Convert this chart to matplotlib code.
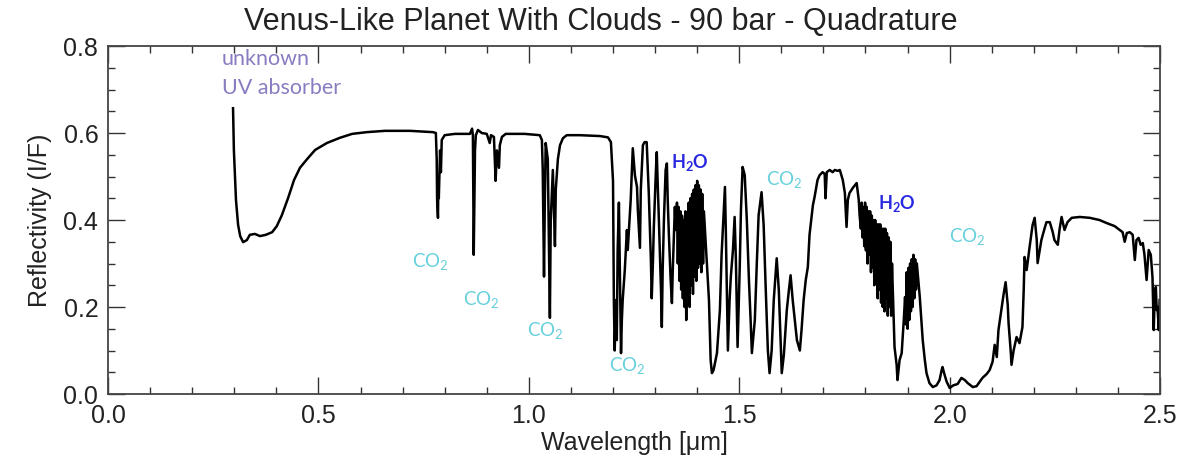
import numpy as np
import matplotlib
matplotlib.use("Agg")
import matplotlib.pyplot as plt
from matplotlib.ticker import MultipleLocator

# spectrum values, split by region (wavelength in um, I/F)
vis_wl = [0.297, 0.299, 0.304, 0.309, 0.314, 0.321, 0.330, 0.337, 0.349, 0.361, 0.375,
          0.390, 0.401, 0.413, 0.428, 0.442, 0.456, 0.473, 0.492, 0.520, 0.551, 0.580,
          0.615, 0.658, 0.717, 0.772,
          0.779, 0.781, 0.782, 0.784, 0.785, 0.786, 0.789, 0.791, 0.793, 0.800, 0.824, 0.860,
          0.865, 0.867, 0.869, 0.872, 0.874, 0.879, 0.888, 0.900, 0.907, 0.910, 0.917,
          0.921, 0.924, 0.929, 0.931, 0.936, 0.945, 0.990, 1.026,
          1.031, 1.033, 1.036, 1.038, 1.040, 1.045, 1.050, 1.052, 1.057, 1.062, 1.064,
          1.069, 1.074, 1.081, 1.090, 1.121, 1.169, 1.188, 1.195]
vis_refl = [0.657, 0.561, 0.446, 0.389, 0.363, 0.349, 0.354, 0.366, 0.368, 0.363, 0.366,
            0.372, 0.386, 0.411, 0.451, 0.492, 0.520, 0.540, 0.561, 0.577, 0.589, 0.598,
            0.602, 0.605, 0.605, 0.602,
            0.600, 0.540, 0.446, 0.405, 0.490, 0.450, 0.560, 0.510, 0.584, 0.595, 0.598, 0.598,
            0.610, 0.595, 0.320, 0.560, 0.595, 0.607, 0.600, 0.598, 0.577, 0.595, 0.591,
            0.490, 0.560, 0.520, 0.572, 0.591, 0.598, 0.598, 0.595,
            0.584, 0.515, 0.270, 0.446, 0.577, 0.540, 0.175, 0.400, 0.515, 0.340, 0.470,
            0.540, 0.572, 0.588, 0.595, 0.595, 0.593, 0.590, 0.579]

band1_wl = [1.200, 1.202, 1.204, 1.207, 1.209, 1.211, 1.214, 1.216, 1.219, 1.221, 1.223,
            1.228, 1.233, 1.235, 1.240, 1.242, 1.247, 1.252, 1.257, 1.259, 1.264, 1.266,
            1.271, 1.275, 1.280, 1.285, 1.290, 1.292, 1.295, 1.297, 1.302, 1.304, 1.306,
            1.309, 1.314, 1.316, 1.318, 1.321, 1.325, 1.328, 1.330, 1.333, 1.337, 1.340,
            1.342, 1.347, 1.349, 1.352,
            1.354, 1.356, 1.358, 1.360, 1.362, 1.364, 1.366, 1.368, 1.370, 1.372, 1.374,
            1.376, 1.378, 1.380, 1.382, 1.384, 1.386, 1.388, 1.390, 1.392, 1.394, 1.396,
            1.398, 1.400, 1.402, 1.404, 1.406, 1.408, 1.410, 1.412, 1.414, 1.416,
            1.428, 1.432, 1.435, 1.439, 1.447]
band1_refl = [0.490, 0.216, 0.100, 0.216, 0.124, 0.331, 0.440, 0.308, 0.094, 0.170, 0.216,
              0.285, 0.377, 0.331, 0.416, 0.446, 0.565, 0.503, 0.476, 0.423, 0.336, 0.469,
              0.572, 0.579, 0.579, 0.462, 0.308, 0.220, 0.308, 0.384, 0.515, 0.556, 0.490,
              0.400, 0.239, 0.154, 0.285, 0.400, 0.515, 0.530, 0.446, 0.360, 0.262, 0.209,
              0.285, 0.430, 0.377, 0.440,
              0.300, 0.430, 0.260, 0.420, 0.240, 0.410, 0.220, 0.400, 0.200, 0.420, 0.170,
              0.410, 0.230, 0.440, 0.200, 0.450, 0.250, 0.460, 0.230, 0.470, 0.270, 0.480,
              0.260, 0.490, 0.290, 0.480, 0.300, 0.470, 0.280, 0.460, 0.300, 0.420,
              0.216, 0.078, 0.048, 0.055, 0.094]

mid_wl = [1.454, 1.458, 1.466, 1.468, 1.473, 1.477, 1.480, 1.485, 1.489, 1.492, 1.496,
          1.501, 1.504, 1.508, 1.513, 1.518, 1.523, 1.527, 1.530, 1.537, 1.542, 1.546,
          1.553, 1.558, 1.563, 1.568, 1.572, 1.577, 1.582, 1.589, 1.594, 1.599, 1.601,
          1.606, 1.613, 1.618, 1.622, 1.627, 1.632, 1.637, 1.644, 1.648, 1.653, 1.658,
          1.663, 1.667, 1.675, 1.679, 1.686, 1.691, 1.698, 1.703, 1.705, 1.708, 1.715,
          1.722, 1.727, 1.734, 1.739, 1.746, 1.751, 1.755, 1.758, 1.762, 1.770, 1.779,
          1.784, 1.786]
mid_refl = [0.193, 0.320, 0.476, 0.380, 0.100, 0.216, 0.270, 0.331, 0.407, 0.308, 0.108,
            0.285, 0.423, 0.522, 0.503, 0.400, 0.262, 0.170, 0.094, 0.170, 0.308, 0.411,
            0.464, 0.388, 0.239, 0.100, 0.048, 0.100, 0.216, 0.312, 0.239, 0.100, 0.048,
            0.090, 0.193, 0.239, 0.273, 0.216, 0.170, 0.124, 0.100, 0.147, 0.216, 0.262,
            0.292, 0.366, 0.434, 0.453, 0.492, 0.503, 0.510, 0.506, 0.450, 0.510, 0.515,
            0.510, 0.515, 0.513, 0.515, 0.492, 0.462, 0.384, 0.446, 0.462, 0.474, 0.485,
            0.446, 0.411]

band2_wl = [1.789, 1.791, 1.793, 1.795, 1.797, 1.799, 1.801, 1.803, 1.805, 1.807, 1.809,
            1.811, 1.813, 1.815, 1.817, 1.819, 1.821, 1.823, 1.825, 1.827, 1.829, 1.831,
            1.833, 1.835, 1.837, 1.839, 1.841, 1.843, 1.845, 1.847, 1.849, 1.851, 1.853,
            1.855, 1.857, 1.859, 1.861, 1.863,
            1.869, 1.874, 1.876, 1.881, 1.886, 1.891, 1.894,
            1.896, 1.898, 1.900, 1.902, 1.904, 1.906, 1.908, 1.910, 1.912, 1.914, 1.916,
            1.918, 1.920, 1.922,
            1.929, 1.936, 1.941, 1.945, 1.952, 1.960, 1.969, 1.976, 1.981, 1.983, 1.988,
            1.993, 2.000]
band2_refl = [0.380, 0.440, 0.360, 0.430, 0.340, 0.440, 0.330, 0.430, 0.300, 0.420, 0.320,
              0.420, 0.280, 0.410, 0.290, 0.400, 0.250, 0.400, 0.260, 0.390, 0.220, 0.390,
              0.240, 0.390, 0.210, 0.380, 0.200, 0.380, 0.190, 0.380, 0.220, 0.370, 0.180,
              0.360, 0.200, 0.350, 0.180, 0.300,
              0.108, 0.067, 0.032, 0.078, 0.094, 0.170, 0.223,
              0.160, 0.280, 0.150, 0.290, 0.170, 0.300, 0.190, 0.310, 0.200, 0.320, 0.220,
              0.310, 0.240, 0.300,
              0.223, 0.124, 0.078, 0.048, 0.025, 0.016, 0.020, 0.032, 0.055, 0.062, 0.044,
              0.028, 0.014]

kband_wl = [2.009, 2.019, 2.028, 2.036, 2.043, 2.055, 2.064, 2.078, 2.088, 2.095, 2.102,
            2.107, 2.112, 2.116, 2.124, 2.128, 2.133, 2.138, 2.140, 2.145, 2.147, 2.152,
            2.159, 2.166, 2.173, 2.176, 2.178, 2.183, 2.190, 2.197, 2.202, 2.207, 2.209,
            2.214, 2.218, 2.226, 2.230, 2.238, 2.245, 2.249, 2.257, 2.261, 2.266, 2.273,
            2.280, 2.290, 2.309, 2.333, 2.356, 2.373, 2.392, 2.404, 2.411, 2.416, 2.421,
            2.428, 2.435, 2.440, 2.444, 2.449, 2.454, 2.459, 2.463, 2.468, 2.473, 2.478,
            2.482, 2.485, 2.487, 2.490, 2.492, 2.494, 2.497, 2.499]
kband_refl = [0.020, 0.023, 0.037, 0.032, 0.025, 0.016, 0.018, 0.037, 0.046, 0.055, 0.074,
              0.113, 0.085, 0.147, 0.200, 0.228, 0.257, 0.205, 0.163, 0.100, 0.067, 0.100,
              0.131, 0.117, 0.154, 0.239, 0.315, 0.285, 0.338, 0.388, 0.405, 0.354, 0.301,
              0.331, 0.354, 0.382, 0.395, 0.395, 0.372, 0.354, 0.343, 0.377, 0.407, 0.377,
              0.395, 0.405, 0.407, 0.405, 0.400, 0.393, 0.386, 0.377, 0.372, 0.350, 0.370,
              0.372, 0.366, 0.308, 0.354, 0.359, 0.343, 0.347, 0.320, 0.262, 0.331, 0.320,
              0.269, 0.147, 0.216, 0.246, 0.193, 0.200, 0.147, 0.216]

# annotations: (wavelength, reflectivity)
co2_labels = [(0.765, 0.303), (0.888, 0.216), (1.038, 0.143), (1.235, 0.064),
              (1.608, 0.492), (2.043, 0.361)]
h2o_labels = [(1.382, 0.533), (1.874, 0.439)]
uv_lines = [("unknown", 0.77), ("UV absorber", 0.703)]

wl = np.concatenate([vis_wl, band1_wl, mid_wl, band2_wl, kband_wl])
refl = np.concatenate([vis_refl, band1_refl, mid_refl, band2_refl, kband_refl])

plt.rcParams['font.family'] = ['Liberation Sans', 'DejaVu Sans']
ann_font = ['Lato', 'DejaVu Sans']

fig = plt.figure(figsize=(12.02, 4.70), dpi=100)
ax = fig.add_axes([0.0899, 0.1617, 0.8752, 0.7404])

ax.plot(wl, refl, color='black', lw=1.8, solid_joinstyle='round')

ax.set_xlim(0.0, 2.5)
ax.set_ylim(0.0, 0.8)
ax.xaxis.set_major_locator(MultipleLocator(0.5))
ax.xaxis.set_minor_locator(MultipleLocator(0.1))
ax.yaxis.set_major_locator(MultipleLocator(0.2))
ax.yaxis.set_minor_locator(MultipleLocator(0.05))
ax.xaxis.set_major_formatter(matplotlib.ticker.FormatStrFormatter('%.1f'))
ax.yaxis.set_major_formatter(matplotlib.ticker.FormatStrFormatter('%.1f'))
ax.tick_params(which='both', direction='in', top=True, right=True,
               colors='#333333', labelcolor='#222222', labelsize=18, width=1.0)
ax.tick_params(which='major', length=12, pad=7)
ax.tick_params(which='minor', length=5)
for s in ax.spines.values():
    s.set_color('#444444')
    s.set_linewidth(1.3)

# title is centred on the figure, not the axes
fig.text(0.5, 0.922, 'Venus-Like Planet With Clouds - 90 bar - Quadrature', fontsize=22,
         color='#222222', ha='center', va='bottom')
ax.set_xlabel('Wavelength [\u03bcm]', fontsize=18, color='#222222', labelpad=2)
ax.set_ylabel('Reflectivity (I/F)', fontsize=18, color='#222222', labelpad=8)

for txt, y in uv_lines:
    ax.text(0.27, y, txt, fontsize=15.5, color='#8a7cc0', family=ann_font,
            ha='left', va='center')
for x, y in co2_labels:
    ax.text(x, y, r'CO$_{\mathregular{2}}$', fontsize=13.5, color='#66d0dc',
            family=ann_font, ha='center', va='center')
for x, y in h2o_labels:
    ax.text(x, y, r'H$_{\mathregular{2}}$O', fontsize=13, color='#2828e0',
            family=ann_font, ha='center', va='center', fontweight='bold')

fig.savefig('out.png', dpi=100)
